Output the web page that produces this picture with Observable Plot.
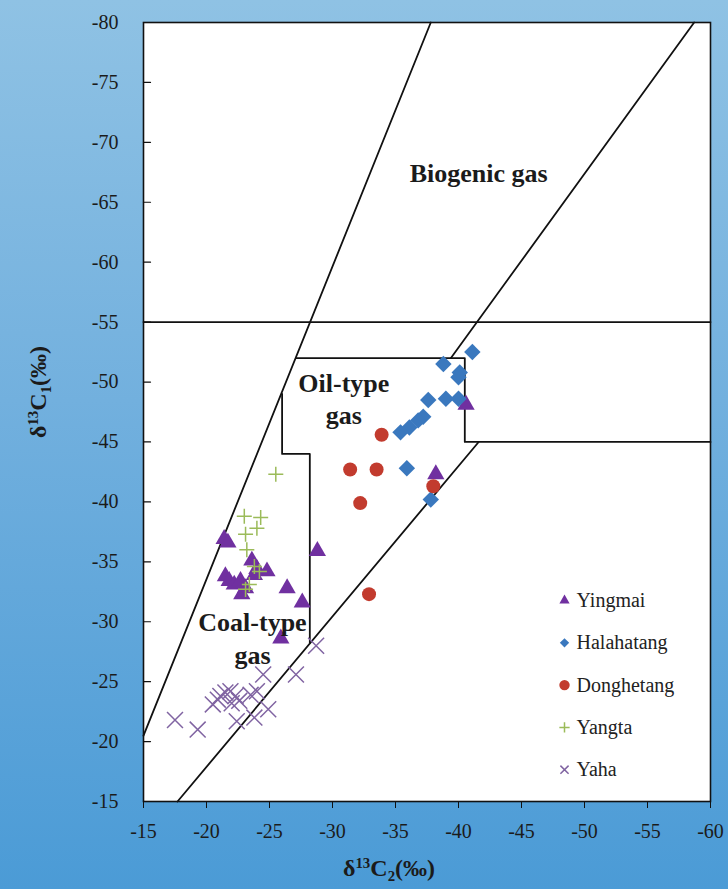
<!DOCTYPE html>
<html><head><meta charset="utf-8">
<script src="https://cdn.jsdelivr.net/npm/d3@7"></script>
<script src="https://cdn.jsdelivr.net/npm/@observablehq/plot@0.6"></script>
<style>
html,body{margin:0;padding:0;}
body{width:728px;height:889px;overflow:hidden;background:linear-gradient(to bottom,#8FC2E4 0%,#72B0DE 45%,#4B9BD6 100%);font-family:"Liberation Serif","Times New Roman",serif;}
#wrap{position:relative;width:728px;height:889px;}
#wrap svg{position:absolute;left:0;top:0;overflow:visible;}
.atitle{position:absolute;font-weight:bold;font-size:24px;color:#1b1b1b;white-space:nowrap;line-height:1;}
.atitle sup{font-size:0.62em;vertical-align:0.55em;}
.atitle sub{font-size:0.62em;vertical-align:-0.3em;}
#xtitle{left:389px;top:870px;transform:translate(-50%,-50%);}
#ytitle{left:40px;top:392px;transform:translate(-50%,-50%) rotate(-90deg);}
</style></head>
<body><div id="wrap"></div>
<script>
// ---- data (δ13C2 = x, δ13C1 = y) ----
const seriesNames = ["Yingmai", "Halahatang", "Donghetang", "Yangta", "Yaha"];
const seriesColors = ["#7030A0", "#3A78BE", "#C23B2E", "#9BBB59", "#8064A2"];

const yingmaiC2 = [-21.4, -21.7, -28.8, -23.6, -21.5, -21.8, -22.2, -22.7, -23.8, -24.0, -24.8, -22.8, -23.1, -26.4, -27.6, -25.9, -40.6, -38.2];
const yingmaiC1 = [-36.9, -36.6, -35.9, -35.1, -33.8, -33.4, -33.1, -33.4, -33.9, -34.4, -34.2, -32.3, -32.8, -32.8, -31.6, -28.6, -48.1, -42.3];

const halahatangC2 = [-41.1, -38.8, -40.1, -40.0, -37.6, -39.0, -40.0, -37.2, -36.8, -36.1, -35.4, -35.9, -37.8];
const halahatangC1 = [-52.5, -51.5, -50.8, -50.4, -48.5, -48.6, -48.6, -47.1, -46.8, -46.2, -45.8, -42.8, -40.2];

const donghetangC2 = [-33.9, -31.4, -33.5, -32.2, -38.0, -32.9];
const donghetangC1 = [-45.6, -42.7, -42.7, -39.9, -41.3, -32.3];

const yangtaC2 = [-25.5, -23.0, -24.3, -24.0, -23.1, -23.2, -23.8, -24.2, -23.4, -23.1];
const yangtaC1 = [-42.3, -38.8, -38.7, -37.8, -37.3, -36.0, -34.6, -34.2, -33.1, -32.7];

const yahaC2 = [-28.7, -24.5, -27.1, -17.5, -19.3, -20.5, -20.9, -21.5, -21.9, -22.3, -22.6, -22.0, -23.5, -24.0, -21.1, -22.4, -23.8, -24.9];
const yahaC1 = [-28.0, -25.6, -25.6, -21.8, -21.0, -23.1, -23.5, -24.1, -24.2, -23.8, -23.4, -23.2, -23.9, -24.2, -23.8, -21.7, -22.0, -22.7];

// genetic-type boundary lines, [δ13C2, δ13C1] vertices
const boundaryLeft = [[-15, -20.5], [-37.8, -80]];
const boundaryUpperRight = [[-58.7, -80], [-39.4, -52]];
const boundaryBiogenic = [[-15, -55], [-60, -55]];
const boundaryOil = [[-27.1, -52], [-40.5, -52], [-40.5, -45], [-60, -45]];
const boundaryStep = [[-26.0, -49.0], [-26.0, -44.0], [-28.2, -44.0], [-28.2, -28.2]];
const boundaryLower = [[-17.7, -15], [-41.6, -45]];

// region labels
const regionText = ["Biogenic gas", "Oil-type\ngas", "Coal-type\ngas"];
const regionC2 = [-41.6, -30.9, -23.65];
const regionC1 = [-67.6, -48.7, -28.7];

// axes
const xDomain = [-15, -60];
const yDomain = [-15, -80];
const xTicks = [-15, -20, -25, -30, -35, -40, -45, -50, -55, -60];
const yTicks = [-80, -75, -70, -65, -60, -55, -50, -45, -40, -35, -30, -25, -20, -15];

// ---- build tables ----
const rows = (c2, c1, name) => c2.map((x, i) => ({c2: x, c1: c1[i], series: name}));
const pointSets = [
  rows(yingmaiC2, yingmaiC1, "Yingmai"),
  rows(halahatangC2, halahatangC1, "Halahatang"),
  rows(donghetangC2, donghetangC1, "Donghetang"),
  rows(yangtaC2, yangtaC1, "Yangta"),
  rows(yahaC2, yahaC1, "Yaha")
];
const boundaryRows = [];
[boundaryLeft, boundaryUpperRight, boundaryBiogenic, boundaryOil, boundaryStep, boundaryLower].forEach((b, k) =>
  b.forEach(([c2, c1]) => boundaryRows.push({c2, c1, id: k})));
const regionRows = regionText.map((t, i) => ({text: t, c2: regionC2[i], c1: regionC1[i]}));

const styles = [
  {symbol: "triangle", r: 6.4, legendR: 3.8, filled: true},
  {symbol: "diamond2", r: 7.4, legendR: 4.2, filled: true},
  {symbol: "circle", r: 7.0, legendR: 5.2, filled: true},
  {symbol: "plus", r: 4.9, legendR: 3.4, filled: false},
  {symbol: "times", r: 7.3, legendR: 3.8, filled: false}
];

const dotMarks = pointSets.map((data, i) => {
  const s = styles[i];
  return Plot.dot(data, s.filled
    ? {x: "c2", y: "c1", symbol: () => s.symbol, r: s.r, fill: seriesColors[i], stroke: "none"}
    : {x: "c2", y: "c1", symbol: () => s.symbol, r: s.r, fill: "none", stroke: seriesColors[i], strokeWidth: 1.5});
});

const legendMarks = [];
seriesNames.forEach((name, i) => {
  const s = styles[i];
  const dy = 578 + i * 42.3;
  legendMarks.push(Plot.dot([name], s.filled
    ? {frameAnchor: "top-left", dx: 421, dy, symbol: () => s.symbol, r: s.legendR, fill: seriesColors[i], stroke: "none"}
    : {frameAnchor: "top-left", dx: 421, dy, symbol: () => s.symbol, r: s.legendR, fill: "none", stroke: seriesColors[i], strokeWidth: 1.5}));
  legendMarks.push(Plot.text([name], {frameAnchor: "top-left", dx: 433, dy, text: d => d, textAnchor: "start", lineAnchor: "middle", fontSize: 20, fill: "#222"}));
});

const tickShape = {draw(context, l) { context.moveTo(0, 0); context.lineTo(0, -l); }};

const chart = Plot.plot({
  width: 728,
  height: 889,
  marginLeft: 143,
  marginRight: 18,
  marginTop: 22,
  marginBottom: 88,
  style: {background: "transparent", fontFamily: "'Liberation Serif','Times New Roman',serif", fontSize: "20px", color: "#1b1b1b", overflow: "visible"},
  x: {domain: xDomain},
  y: {domain: yDomain},
  marks: [
    Plot.frame({fill: "white", stroke: "none"}),
    Plot.line(boundaryRows, {x: "c2", y: "c1", z: "id", stroke: "#111", strokeWidth: 1.8}),
    ...dotMarks,
    Plot.text(regionRows, {x: "c2", y: "c1", text: "text", fontSize: 26, fontWeight: "bold", lineHeight: 1.25, textAnchor: "middle", lineAnchor: "middle", fill: "#1b1b1b"}),
    ...legendMarks,
    Plot.frame({stroke: "#111", strokeWidth: 1.6}),
    Plot.axisX({ticks: xTicks, tickSize: 7, tickPadding: 15, tickFormat: d => String(d), label: null, fontSize: 20, stroke: "#111"}),
    Plot.axisY({ticks: yTicks, tickSize: 0, tickPadding: 25, tickFormat: d => String(d), label: null, fontSize: 20}),
    Plot.vector(yTicks, {x: xDomain[0], y: d => d, length: 7, rotate: 90, anchor: "start", shape: tickShape, stroke: "#111", strokeWidth: 1.2})
  ]
});

const wrap = document.getElementById("wrap");
wrap.appendChild(chart);
const xt = document.createElement("div");
xt.id = "xtitle"; xt.className = "atitle";
xt.innerHTML = "δ<sup>13</sup>C<sub>2</sub>(‰)";
wrap.appendChild(xt);
const yt = document.createElement("div");
yt.id = "ytitle"; yt.className = "atitle";
yt.innerHTML = "δ<sup>13</sup>C<sub>1</sub>(‰)";
wrap.appendChild(yt);
</script></body></html>
